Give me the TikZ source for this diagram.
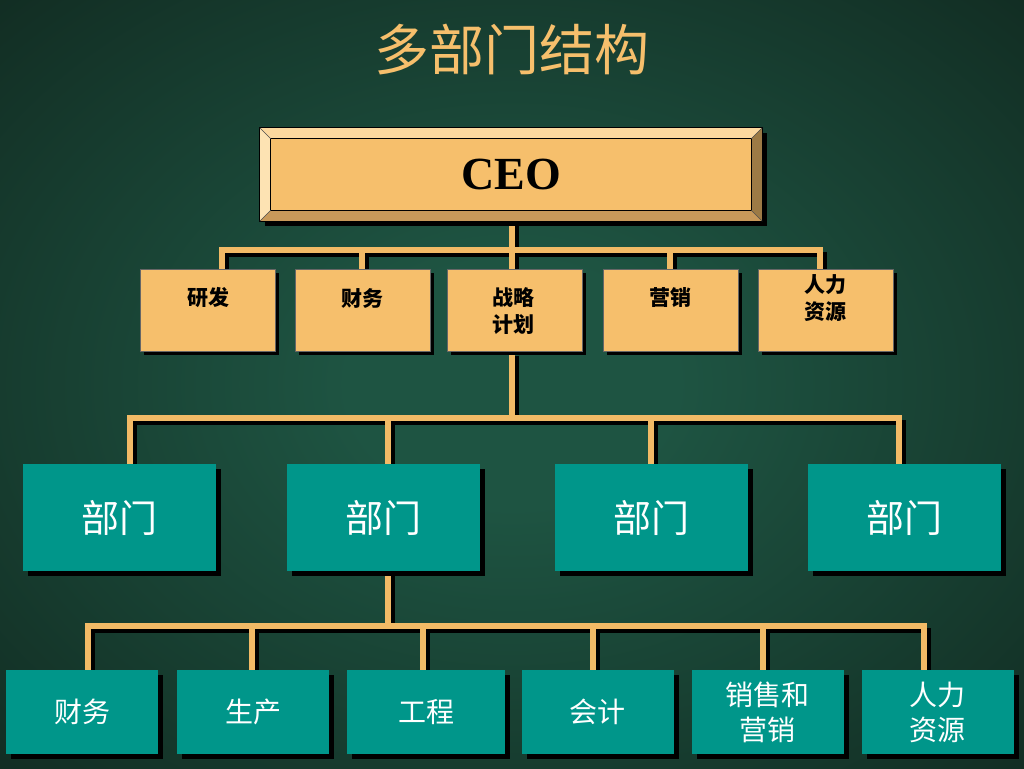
\documentclass[tikz,border=0pt]{standalone}
\usepackage{fontspec}
\setmainfont{Liberation Serif}
\newfontfamily\cjk{Noto Sans CJK SC}
\usetikzlibrary{shadows,calc}
\pgfdeclarelayer{bg}
\pgfdeclarelayer{lines}
\pgfsetlayers{bg,lines,main}
\definecolor{bgin}{HTML}{1E5442}
\definecolor{bgout}{HTML}{10271E}
\definecolor{gold}{HTML}{F6BF6C}
\definecolor{goldline}{HTML}{F2BA66}
\definecolor{tealbox}{HTML}{00968A}
\definecolor{bevtop}{HTML}{FCD89E}
\definecolor{bevleft}{HTML}{FDE3B3}
\definecolor{bevright}{HTML}{9C7A45}
\definecolor{bevbot}{HTML}{C8995A}
\pgfdeclareradialshading{bgshade}{\pgfpoint{0bp}{0bp}}{color(0bp)=(bgin); color(8bp)=(bgin); color(40bp)=(bgout); color(50bp)=(bgout)}
\tikzset{
  conn/.style={draw=goldline, line width=5.5pt, line join=miter,
    preaction={draw=black, line width=5.5pt, transform canvas={shift={(4.5pt,-4.5pt)}}}},
  shad/.style={drop shadow={shadow xshift=#1, shadow yshift=-#1, fill=black, opacity=1}},
  goldbox/.style={rectangle, fill=gold, draw=black!60, line width=0.4pt, inner sep=0pt,
    minimum width=135pt, minimum height=82pt, shad=4pt},
  deptbox/.style={rectangle, fill=tealbox, inner sep=0pt,
    minimum width=193pt, minimum height=107pt, shad=5pt,
    text=white, font=\cjk\fontsize{38}{42}\selectfont},
  unitbox/.style={rectangle, fill=tealbox, inner sep=0pt,
    minimum width=152pt, minimum height=84pt, shad=5pt,
    text=white, align=center, font=\cjk\fontsize{28}{35}\selectfont},
  goldtxt/.style={inner sep=0pt, align=center, text=black, font=\cjk\bfseries\fontsize{21}{27}\selectfont},
}
\begin{document}
\begin{tikzpicture}[x=1pt,y=-1pt]
\useasboundingbox (0,0) rectangle (1024,768);
\begin{pgfonlayer}{bg}
\path[shading=bgshade] (0,0) rectangle (1024,768);
\end{pgfonlayer}

% title
\node[text=gold, font=\cjk\fontsize{55}{60}\selectfont] (title) at (512,50) {多部门结构};

% CEO box
\node[rectangle, fill=gold, draw=black, line width=0.5pt, minimum width=502pt, minimum height=93pt,
  inner sep=0pt, shad=5pt, font=\bfseries\fontsize{46}{50}\selectfont] (ceo) at (511,174.5) {CEO};
\coordinate (cnw) at ($(ceo.north west)+(11,11)$);
\coordinate (cne) at ($(ceo.north east)+(-11,11)$);
\coordinate (csw) at ($(ceo.south west)+(11,-11)$);
\coordinate (cse) at ($(ceo.south east)+(-11,-11)$);
\fill[bevtop] (ceo.north west) -- (ceo.north east) -- (cne) -- (cnw) -- cycle;
\fill[bevleft] (ceo.north west) -- (cnw) -- (csw) -- (ceo.south west) -- cycle;
\fill[bevright] (ceo.north east) -- (ceo.south east) -- (cse) -- (cne) -- cycle;
\fill[bevbot] (ceo.south west) -- (ceo.south east) -- (cse) -- (csw) -- cycle;
\draw[black, line width=0.6pt] (cnw) rectangle (cse);
\draw[black, line width=0.6pt] (ceo.north west) rectangle (ceo.south east);
\draw[black!70, line width=0.4pt] (ceo.north west) -- (cnw) (ceo.north east) -- (cne)
  (ceo.south west) -- (csw) (ceo.south east) -- (cse);

% row 2
\node[goldbox] (r2a) at (207.5,310) {};
\node[goldbox] (r2b) at (362.5,310) {};
\node[goldbox] (r2c) at (514.5,310) {};
\node[goldbox] (r2d) at (670.5,310) {};
\node[goldbox] (r2e) at (825.5,310) {};
\node[goldtxt] (t2a) at (208,298) {研发};
\node[goldtxt] (t2b) at (362,298) {财务};
\node[goldtxt] (t2c) at (513,311.5) {战略\\计划};
\node[goldtxt] (t2d) at (670,298) {营销};
\node[goldtxt] (t2e) at (825,298) {人力\\资源};

% row 3
\node[deptbox] (r3a) at (119.5,517.5) {部门};
\node[deptbox] (r3b) at (383.5,517.5) {部门};
\node[deptbox] (r3c) at (651,517.5) {部门};
\node[deptbox] (r3d) at (904,517.5) {部门};

% row 4
\node[unitbox] (r4a) at (82,712) {财务};
\node[unitbox] (r4b) at (253,712) {生产};
\node[unitbox, minimum width=158pt] (r4c) at (426,712) {工程};
\node[unitbox] (r4d) at (597.5,712) {会计};
\node[unitbox] (r4e) at (767.5,712) {销售和\\营销};
\node[unitbox] (r4f) at (937.5,712) {人力\\资源};

% connectors
\begin{pgfonlayer}{lines}
\coordinate (j1) at (512,250);
\coordinate (b1l) at (222,250);
\coordinate (b1r) at (820,250);
\coordinate (d1b) at (362,250);
\coordinate (d1d) at (670,250);
\draw[conn] (ceo.south -| j1) -- (j1);
\draw[conn] (b1l |- r2a.north) -- (b1l) -- (b1r) -- (b1r |- r2e.north);
\draw[conn] (d1b) -- (d1b |- r2b.north);
\draw[conn] (j1) -- (j1 |- r2c.north);
\draw[conn] (d1d) -- (d1d |- r2d.north);

\coordinate (j2) at (512,418);
\coordinate (b2l) at (130,418);
\coordinate (b2r) at (899,418);
\coordinate (d2b) at (388,418);
\coordinate (d2c) at (651,418);
\draw[conn] (j1 |- r2c.south) -- (j2);
\draw[conn] (b2l |- r3a.north) -- (b2l) -- (b2r) -- (b2r |- r3d.north);
\draw[conn] (d2b) -- (d2b |- r3b.north);
\draw[conn] (d2c) -- (d2c |- r3c.north);

\coordinate (j3) at (388,626);
\coordinate (b3l) at (88,626);
\coordinate (b3r) at (924,626);
\coordinate (d3b) at (252,626);
\coordinate (d3c) at (423,626);
\coordinate (d3d) at (593,626);
\coordinate (d3e) at (763,626);
\draw[conn] (j3 |- r3b.south) -- (j3);
\draw[conn] (b3l |- r4a.north) -- (b3l) -- (b3r) -- (b3r |- r4f.north);
\draw[conn] (d3b) -- (d3b |- r4b.north);
\draw[conn] (d3c) -- (d3c |- r4c.north);
\draw[conn] (d3d) -- (d3d |- r4d.north);
\draw[conn] (d3e) -- (d3e |- r4e.north);
\end{pgfonlayer}
\end{tikzpicture}
\end{document}
